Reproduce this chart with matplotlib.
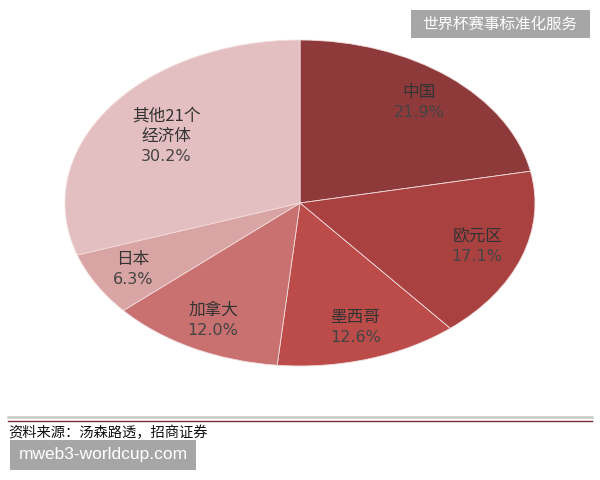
import matplotlib
matplotlib.use("Agg")
import matplotlib.pyplot as plt
import numpy as np
from matplotlib.patches import Rectangle

plt.rcParams["font.family"] = ["Noto Sans CJK SC", "DejaVu Sans"]

# data
regions = ["中国", "欧元区", "墨西哥", "加拿大", "日本", "其他21个\n经济体"]
shares = [21.9, 17.1, 12.6, 12.0, 6.3, 30.2]
colors = ["#8E3A3A", "#A8413F", "#BB4C4A", "#C87170", "#D9A4A4", "#E4BFC1"]
label_dist = [0.80, 0.80, 0.80, 0.81, 0.82, 0.70]

source_text = "资料来源：汤森路透，招商证券"
top_mark = "世界杯赛事标准化服务"
bottom_mark = "mweb3-worldcup.com"

W, H = 600, 480
fig = plt.figure(figsize=(W / 100, H / 100), dpi=100)
fig.patch.set_facecolor("white")

# pie is stretched (ellipse) like in the original report
cx, cy, rx, ry = 300, 203, 235, 163
ax = fig.add_axes([(cx - rx) / W, (H - cy - ry) / H, 2 * rx / W, 2 * ry / H])
wedges, _ = ax.pie(shares, colors=colors, startangle=90, counterclock=False,
                   radius=1.0, wedgeprops=dict(edgecolor="#F2DCDC", linewidth=0.6))
ax.set_aspect("auto")
ax.set_xlim(-1, 1)
ax.set_ylim(-1, 1)
ax.axis("off")

line_px = 20  # distance between label lines, in pixels (= points at dpi 72? no, convert)
pt = 72 / 100
for w, name, pct, d in zip(wedges, regions, shares, label_dist):
    ang = np.deg2rad((w.theta1 + w.theta2) / 2)
    x, y = d * np.cos(ang), d * np.sin(ang)
    lines = name.split("\n")
    n = len(lines) + 1
    for i, s in enumerate(lines):
        off = ((n - 1) / 2 - i) * line_px * pt
        ax.annotate(s, (x, y), xytext=(0, off), textcoords="offset points",
                    ha="center", va="center", fontsize=12, color="#333333")
    off = ((n - 1) / 2 - (n - 1)) * line_px * pt
    ax.annotate(f"{pct:.1f}%", (x, y), xytext=(0, off), textcoords="offset points",
                ha="center", va="center", fontsize=11.5, color="#444444",
                family="DejaVu Sans")

# source lines
fig.add_artist(plt.Line2D([8 / W, 592 / W], [1 - 417 / H, 1 - 417 / H],
                          color="#C4CAC4", linewidth=1.8))
fig.add_artist(plt.Line2D([8 / W, 592 / W], [1 - 421 / H, 1 - 421 / H],
                          color="#7A2A3A", linewidth=1.0))
fig.text(8 / W, 1 - 433 / H, source_text, ha="left", va="center",
         fontsize=10.3, color="#111111")

# watermark boxes
fig.add_artist(Rectangle((411 / W, 1 - 38 / H), 179 / W, 28 / H,
                         transform=fig.transFigure, facecolor="#A6A6A6", edgecolor="none"))
fig.text(500 / W, 1 - 24 / H, top_mark, ha="center", va="center",
         fontsize=11.2, color="white")
fig.add_artist(Rectangle((10 / W, 1 - 470 / H), 186 / W, 30 / H,
                         transform=fig.transFigure, facecolor="#A6A6A6", edgecolor="none"))
fig.text(103 / W, 1 - 455 / H, bottom_mark, ha="center", va="center",
         fontsize=12.5, color="white", family="Liberation Sans")

fig.savefig("out.png", dpi=100)
